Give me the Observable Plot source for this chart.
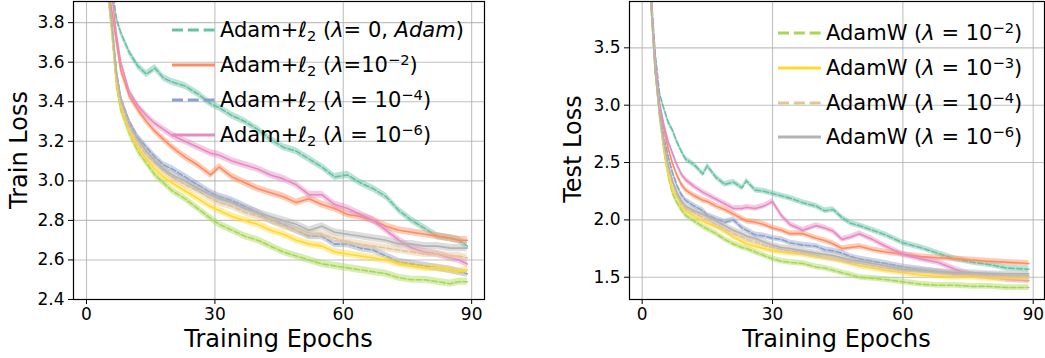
<!DOCTYPE html>
<html>
<head>
<meta charset="utf-8">
<script src="https://cdn.jsdelivr.net/npm/d3@7"></script>
<script src="https://cdn.jsdelivr.net/npm/@observablehq/plot@0.6"></script>
<style>
  body { margin: 0; background: #fff; font-family: "DejaVu Sans", sans-serif; }
  #wrap { position: relative; width: 1045px; height: 358px; overflow: hidden; background: #fff; }
  .panel { position: absolute; top: 0; }
  .panel svg { display: block; }
  .lab { position: absolute; font-size: 24px; white-space: nowrap; color: #000; line-height: 24px; }
  .ylab { transform: translate(-50%, -50%) rotate(-90deg); }
  .xlab { transform: translate(-50%, -50%); }
  .leg { position: absolute; white-space: nowrap; font-size: 21px; line-height: 24px; height: 24px; color: #000; display: flex; align-items: flex-start; }
  .leg svg { display: block; margin-right: 5px; flex: none; }
  .leg sub, .leg sup { font-size: 70%; line-height: 0; }
  .leg sub { vertical-align: -0.25em; }
  .leg sup { vertical-align: 0.5em; }
</style>
</head>
<body>
<div id="wrap"></div>
<script>
// ---------------- data ----------------
const trainEpochs = [1,3,5,6,7,8,10,12,14,16,18,20,23,26,29,31,34,37,40,43,46,49,52,55,58,61,64,67,70,73,76,79,82,85,87,89];
const trainAdam  = [5.6,4.7,4.15,3.97,3.82,3.75,3.65,3.58,3.54,3.57,3.52,3.50,3.48,3.44,3.39,3.37,3.33,3.30,3.26,3.21,3.17,3.15,3.11,3.07,3.02,3.03,2.99,2.96,2.92,2.85,2.80,2.76,2.72,2.71,2.70,2.67];
const trainL2e2  = [5.5,4.5,4.0,3.85,3.70,3.56,3.43,3.36,3.30,3.25,3.21,3.17,3.12,3.08,3.03,3.07,3.02,2.99,2.96,2.94,2.92,2.89,2.91,2.88,2.86,2.83,2.82,2.80,2.77,2.75,2.74,2.73,2.72,2.71,2.70,2.70];
const trainL2e4  = [5.4,4.4,3.98,3.78,3.55,3.42,3.30,3.22,3.17,3.12,3.08,3.06,3.02,2.98,2.94,2.92,2.90,2.87,2.84,2.80,2.78,2.75,2.72,2.72,2.68,2.68,2.66,2.65,2.62,2.59,2.58,2.57,2.56,2.55,2.54,2.53];
const trainL2e6  = [5.6,4.6,4.1,3.93,3.74,3.60,3.45,3.38,3.33,3.29,3.26,3.23,3.20,3.17,3.14,3.13,3.10,3.08,3.06,3.03,3.01,2.98,2.93,2.93,2.88,2.86,2.83,2.80,2.75,2.70,2.66,2.64,2.63,2.61,2.60,2.58];
const trainW2    = [5.4,4.4,3.95,3.73,3.48,3.36,3.24,3.15,3.09,3.03,2.99,2.95,2.91,2.86,2.81,2.78,2.75,2.72,2.70,2.67,2.64,2.62,2.60,2.58,2.57,2.56,2.55,2.54,2.53,2.51,2.50,2.50,2.49,2.48,2.49,2.49];
const trainW3    = [5.4,4.4,3.96,3.75,3.50,3.38,3.25,3.17,3.11,3.06,3.02,2.99,2.95,2.91,2.87,2.85,2.82,2.80,2.78,2.75,2.73,2.70,2.68,2.67,2.64,2.63,2.62,2.61,2.60,2.58,2.57,2.56,2.56,2.55,2.54,2.55];
const trainW4    = [5.4,4.4,3.97,3.77,3.53,3.40,3.27,3.19,3.13,3.09,3.05,3.02,2.98,2.95,2.91,2.89,2.87,2.84,2.82,2.80,2.77,2.75,2.73,2.73,2.71,2.69,2.68,2.67,2.66,2.65,2.64,2.63,2.63,2.62,2.62,2.61];
const trainW6    = [5.4,4.4,3.98,3.78,3.55,3.42,3.29,3.21,3.15,3.10,3.06,3.03,3.00,2.96,2.93,2.91,2.89,2.86,2.84,2.82,2.80,2.78,2.75,2.77,2.74,2.73,2.72,2.71,2.70,2.68,2.68,2.67,2.67,2.66,2.66,2.66];
const trainStd = 0.018;

const testEpochs = [1,2,3,4,5,6,7,8,9,10,12,14,15,17,19,21,23,24,26,28,30,32,34,37,40,42,44,46,48,50,53,56,60,64,68,72,76,80,84,89];
const testAdam  = [5.0,4.0,3.45,3.10,2.97,2.85,2.78,2.68,2.60,2.53,2.48,2.40,2.47,2.37,2.31,2.33,2.28,2.34,2.26,2.25,2.23,2.21,2.19,2.15,2.12,2.08,2.09,2.02,1.97,1.95,1.91,1.87,1.80,1.76,1.71,1.66,1.63,1.61,1.58,1.57];
const testL2e2  = [5.0,3.95,3.35,3.0,2.8,2.62,2.49,2.39,2.31,2.26,2.21,2.17,2.16,2.12,2.09,2.05,2.01,1.99,1.98,1.96,1.93,1.91,1.88,1.88,1.84,1.82,1.79,1.75,1.76,1.77,1.74,1.72,1.70,1.68,1.67,1.66,1.65,1.64,1.63,1.62];
const testL2e4  = [4.9,3.9,3.3,2.95,2.72,2.55,2.41,2.30,2.22,2.17,2.12,2.08,2.04,2.01,1.98,2.00,1.93,1.91,1.87,1.86,1.84,1.83,1.80,1.78,1.77,1.74,1.73,1.71,1.68,1.66,1.64,1.62,1.59,1.57,1.55,1.53,1.52,1.52,1.51,1.51];
const testL2e6  = [5.0,3.97,3.4,3.02,2.83,2.68,2.58,2.48,2.40,2.35,2.29,2.24,2.22,2.18,2.14,2.10,2.10,2.11,2.10,2.12,2.16,2.04,1.96,1.91,1.95,1.93,1.90,1.83,1.85,1.88,1.83,1.77,1.70,1.66,1.63,1.57,1.52,1.50,1.48,1.47];
const testW2    = [4.9,3.9,3.3,2.9,2.6,2.38,2.23,2.15,2.09,2.04,1.99,1.94,1.92,1.88,1.83,1.79,1.76,1.75,1.72,1.69,1.66,1.64,1.63,1.62,1.59,1.58,1.56,1.54,1.52,1.50,1.49,1.48,1.46,1.44,1.43,1.43,1.42,1.42,1.41,1.41];
const testW3    = [4.9,3.9,3.3,2.9,2.62,2.40,2.26,2.20,2.12,2.08,2.03,1.99,1.97,1.94,1.90,1.85,1.81,1.79,1.77,1.75,1.73,1.72,1.71,1.70,1.68,1.67,1.66,1.64,1.62,1.60,1.58,1.56,1.54,1.52,1.51,1.50,1.50,1.49,1.49,1.49];
const testW4    = [4.9,3.9,3.3,2.92,2.66,2.46,2.32,2.22,2.15,2.10,2.06,2.02,2.00,1.96,1.92,1.88,1.85,1.83,1.81,1.78,1.76,1.74,1.73,1.71,1.69,1.67,1.66,1.65,1.63,1.62,1.60,1.58,1.56,1.55,1.54,1.52,1.52,1.51,1.50,1.50];
const testW6    = [4.9,3.9,3.3,2.93,2.68,2.48,2.34,2.24,2.17,2.12,2.08,2.05,2.03,1.99,1.95,1.91,1.88,1.86,1.84,1.81,1.78,1.76,1.75,1.73,1.71,1.70,1.69,1.67,1.65,1.64,1.62,1.60,1.57,1.56,1.55,1.54,1.54,1.53,1.53,1.53];
const testStd = 0.025;

const seriesKeys   = ["adam", "l2e2", "l2e4", "l2e6", "w2", "w3", "w4", "w6"];
const seriesColors = ["#66c2a5", "#fc8d62", "#8da0cb", "#e78ac3", "#a6d854", "#ffd92f", "#e5c494", "#b3b3b3"];
const seriesDashed = [true, false, true, false, true, false, true, false];

const xTicks = [0, 30, 60, 90];
const trainYTicks = [2.4, 2.6, 2.8, 3.0, 3.2, 3.4, 3.6, 3.8];
const testYTicks = [1.5, 2.0, 2.5, 3.0, 3.5];

const leftLabels = [
  'Adam+ℓ<sub>2</sub> (<i>λ</i>= 0, <i>Adam</i>)',
  'Adam+ℓ<sub>2</sub> (<i>λ</i>=10<sup>−2</sup>)',
  'Adam+ℓ<sub>2</sub> (<i>λ</i> = 10<sup>−4</sup>)',
  'Adam+ℓ<sub>2</sub> (<i>λ</i> = 10<sup>−6</sup>)'
];
const rightLabels = [
  'AdamW (<i>λ</i> = 10<sup>−2</sup>)',
  'AdamW (<i>λ</i> = 10<sup>−3</sup>)',
  'AdamW (<i>λ</i> = 10<sup>−4</sup>)',
  'AdamW (<i>λ</i> = 10<sup>−6</sup>)'
];

// ---------------- drawing ----------------
function buildPanel(epochs, values, std, cfg) {
  const marks = [
    Plot.gridX(xTicks, {stroke: "#b0b0b0", strokeOpacity: 0.8, strokeWidth: 1.1}),
    Plot.gridY(cfg.yTicks, {stroke: "#b0b0b0", strokeOpacity: 0.8, strokeWidth: 1.1})
  ];
  values.forEach((vals, k) => {
    const rows = vals.map((v, i) => ({e: epochs[i], v}));
    marks.push(Plot.areaY(rows, {x: "e", y1: d => d.v - std, y2: d => d.v + std,
      fill: seriesColors[k], fillOpacity: 0.45, clip: true}));
    marks.push(Plot.line(rows, {x: "e", y: "v", stroke: seriesColors[k], strokeWidth: 1.6,
      strokeDasharray: seriesDashed[k] ? "5.5,2.4" : null, clip: true}));
  });
  marks.push(Plot.frame({stroke: "#000", strokeWidth: 1.2}));
  marks.push(Plot.axisX(xTicks, {tickSize: 5, tickPadding: 3, label: null, fontSize: 17}));
  marks.push(Plot.axisY(cfg.yTicks, {tickSize: 5, tickPadding: 4, label: null, fontSize: 17,
    tickFormat: d3.format(".1f")}));
  return Plot.plot({
    width: cfg.width, height: 358,
    marginLeft: cfg.marginLeft, marginRight: cfg.marginRight, marginTop: 1, marginBottom: 59,
    x: {domain: cfg.xDomain},
    y: {domain: cfg.yDomain},
    style: {fontFamily: "DejaVu Sans", fontSize: "17px", color: "#000", background: "transparent"},
    marks
  });
}

const wrap = document.getElementById("wrap");

function addPanel(left, svg) {
  const d = document.createElement("div");
  d.className = "panel";
  d.style.left = left + "px";
  d.appendChild(svg);
  wrap.appendChild(d);
}

addPanel(0, buildPanel(trainEpochs,
  [trainAdam, trainL2e2, trainL2e4, trainL2e6, trainW2, trainW3, trainW4, trainW6], trainStd,
  {width: 530, marginLeft: 73, marginRight: 46, xDomain: [-3.04, 93.0], yDomain: [2.4, 3.907], yTicks: trainYTicks}));

addPanel(530, buildPanel(testEpochs,
  [testAdam, testL2e2, testL2e4, testL2e6, testW2, testW3, testW4, testW6], testStd,
  {width: 515, marginLeft: 99, marginRight: 1, xDomain: [-2.92, 92.6], yDomain: [1.306, 3.904], yTicks: testYTicks}));

function addLabel(text, x, y, cls) {
  const d = document.createElement("div");
  d.className = "lab " + cls;
  d.style.left = x + "px";
  d.style.top = y + "px";
  d.textContent = text;
  wrap.appendChild(d);
}
addLabel("Train Loss", 19, 150, "ylab");
addLabel("Training Epochs", 278.5, 339, "xlab");
addLabel("Test Loss", 573, 149, "ylab");
addLabel("Training Epochs", 836.5, 339, "xlab");

function addLegend(labels, idx, x, centers) {
  labels.forEach((html, j) => {
    const k = idx[j];
    const row = document.createElement("div");
    row.className = "leg";
    row.style.left = x + "px";
    row.style.top = (centers[j] - 12) + "px";
    const ns = "http://www.w3.org/2000/svg";
    const s = document.createElementNS(ns, "svg");
    s.setAttribute("width", 43); s.setAttribute("height", 24);
    const ln = document.createElementNS(ns, "line");
    ln.setAttribute("x1", 0); ln.setAttribute("x2", 43);
    ln.setAttribute("y1", 12); ln.setAttribute("y2", 12);
    ln.setAttribute("stroke", seriesColors[k]);
    ln.setAttribute("stroke-width", 3);
    if (seriesDashed[k]) ln.setAttribute("stroke-dasharray", "11,4.8");
    s.appendChild(ln);
    row.appendChild(s);
    const t = document.createElement("span");
    t.innerHTML = html;
    row.appendChild(t);
    wrap.appendChild(row);
  });
}
addLegend(leftLabels, [0, 1, 2, 3], 172, [30, 65, 100, 135]);
addLegend(rightLabels, [4, 5, 6, 7], 778, [33, 68, 103, 137]);
</script>
</body>
</html>
